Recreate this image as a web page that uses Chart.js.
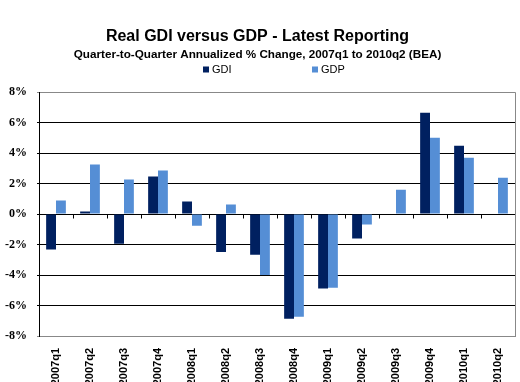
<!DOCTYPE html>
<html><head><meta charset="utf-8">
<script src="https://cdn.jsdelivr.net/npm/chart.js@4"></script>
<style>html,body{margin:0;padding:0;background:#fff}#wrap{width:520px;height:382px;position:relative}</style>
</head><body><div id="wrap"><canvas id="c" width="520" height="382"></canvas></div>
<script>
const quarters = ['2007q1','2007q2','2007q3','2007q4','2008q1','2008q2','2008q3','2008q4','2009q1','2009q2','2009q3','2009q4','2010q1','2010q2'];
const gdi = [-2.33, 0.17, -1.95, 2.47, 0.83, -2.48, -2.66, -6.87, -4.89, -1.60, 0, 6.66, 4.49, null];
const gdp = [0.90, 3.26, 2.28, 2.87, -0.77, 0.63, -4.00, -6.74, -4.83, -0.68, 1.60, 5.02, 3.70, 2.39];
const yMin = -8, yMax = 8, yStep = 2;
const titleText = 'Real GDI versus GDP - Latest Reporting';
const subtitleText = 'Quarter-to-Quarter Annualized % Change, 2007q1 to 2010q2 (BEA)';

const customLegend = {
  id: 'customLegend',
  afterDraw(chart) {
    const ctx = chart.ctx;
    const y = 69.5;
    const startX = chart.width / 2 - 57;
    const gapX = 109;
    ctx.save();
    ctx.font = '11px "Liberation Sans", Arial, sans-serif';
    ctx.textBaseline = 'middle';
    chart.data.datasets.forEach((ds, i) => {
      const x = startX + i * gapX;
      ctx.fillStyle = ds.backgroundColor;
      ctx.fillRect(x, y - 3, 6, 6);
      ctx.fillStyle = '#000';
      ctx.fillText(ds.label, x + 9, y);
    });
    ctx.restore();
  }
};

const frameAndTicks = {
  id: 'frameAndTicks',
  afterDatasetsDraw(chart) {
    const ctx = chart.ctx;
    const xs = chart.scales.x, ys = chart.scales.y;
    const a = chart.chartArea;
    const zeroY = Math.round(ys.getPixelForValue(0)) + 0.5;
    ctx.save();
    ctx.strokeStyle = '#000';
    ctx.lineWidth = 1;
    ctx.beginPath();
    for (let i = 0; i <= quarters.length; i++) {
      const px = Math.round(xs.getPixelForValue(i - 0.5)) + 0.5;
      ctx.moveTo(px, zeroY);
      ctx.lineTo(px, zeroY + 4);
    }
    ctx.stroke();
    ctx.strokeStyle = '#888';
    ctx.beginPath();
    ctx.moveTo(Math.round(a.right) + 0.5, a.top);
    ctx.lineTo(Math.round(a.right) + 0.5, a.bottom);
    ctx.stroke();
    ctx.restore();
  }
};

new Chart(document.getElementById('c'), {
  type: 'bar',
  data: {
    labels: quarters,
    datasets: [
      { label: 'GDI', data: gdi, backgroundColor: '#002060' },
      { label: 'GDP', data: gdp, backgroundColor: '#558ED5' }
    ]
  },
  options: {
    responsive: false,
    animation: false,
    devicePixelRatio: 1,
    layout: { padding: { left: 0, right: 5, top: 0, bottom: 0 } },
    datasets: { bar: { categoryPercentage: 0.58, barPercentage: 1.0 } },
    plugins: {
      legend: { display: false },
      tooltip: { enabled: false },
      title: {
        display: true, text: titleText, color: '#000',
        font: { family: '"Liberation Sans", Arial, sans-serif', size: 16, weight: 'bold' },
        padding: { top: 27, bottom: 0 }
      },
      subtitle: {
        display: true, text: subtitleText, color: '#000',
        font: { family: '"Liberation Sans", Arial, sans-serif', size: 11.7, weight: 'bold' },
        padding: { top: 1.5, bottom: 30.5 }
      }
    },
    scales: {
      x: {
        grid: { display: false },
        border: { display: true, color: '#888' },
        ticks: {
          color: '#000', autoSkip: false, maxRotation: 90, minRotation: 90, padding: 4,
          font: { family: '"Liberation Sans", Arial, sans-serif', size: 11, weight: 'bold' }
        },
        afterFit: s => { s.height = 46; }
      },
      y: {
        min: yMin, max: yMax,
        border: { display: true, color: '#000' },
        grid: {
          color: c => (c.tick && (c.tick.value === yMax || c.tick.value === yMin)) ? '#888' : '#000',
          tickLength: 2, drawTicks: true
        },
        ticks: {
          stepSize: yStep, color: '#000', padding: 10,
          font: { family: 'Liberation Serif', size: 12, weight: 'bold' },
          callback: v => v + '%'
        },
        afterFit: s => { s.width = 39; }
      }
    }
  },
  plugins: [frameAndTicks, customLegend]
});
</script></body></html>
